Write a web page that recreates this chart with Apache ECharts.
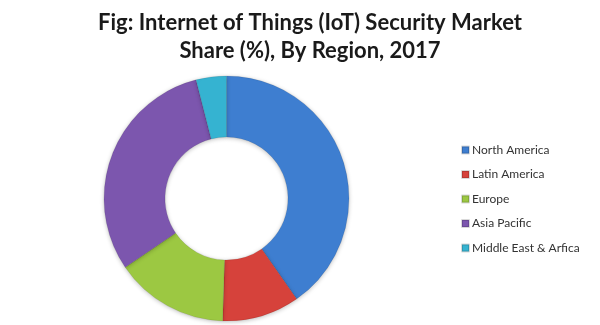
<!DOCTYPE html>
<html>
<head>
<meta charset="utf-8">
<script src="https://cdn.jsdelivr.net/npm/echarts@6/dist/echarts.min.js"></script>
<style>
html,body{margin:0;padding:0;background:#fff;}
#c{width:600px;height:325px;}
</style>
</head>
<body>
<div id="c"></div>
<script>
const titleLines = ['Fig: Internet of Things (IoT) Security Market', 'Share (%), By Region, 2017'];
const regions = ['North America', 'Latin America', 'Europe', 'Asia Pacific', 'Middle East & Arfica'];
const shares = [40.3, 10.2, 15.0, 30.5, 4.0];
const colors = ['#3E7ED0', '#D6423B', '#9CC842', '#7C56AE', '#35B3D1'];

const chart = echarts.init(document.getElementById('c'), null, {renderer: 'canvas'});
chart.setOption({
  animation: false,
  backgroundColor: '#ffffff',
  title: {
    text: titleLines.join('\n'),
    left: 305,
    textAlign: 'center',
    top: 4,
    textStyle: {fontFamily: 'Lato', fontWeight: 'bold', fontSize: 22, lineHeight: 28, color: '#1a1a1a'}
  },
  legend: {
    orient: 'vertical',
    left: 456,
    top: 139,
    icon: 'rect',
    itemWidth: 7,
    itemHeight: 7,
    itemGap: 12.5,
    textStyle: {fontFamily: 'Lato', fontSize: 12, color: '#333', padding: [0, 0, 0, -2]},
    data: regions
  },
  series: [{
    type: 'pie',
    center: [226.5, 198.5],
    radius: [61.5, 122.5],
    startAngle: 90,
    clockwise: true,
    label: {show: false},
    labelLine: {show: false},
    itemStyle: {
      borderColor: 'rgba(0,0,0,0.15)',
      borderWidth: 0.6,
      shadowBlur: 4,
      shadowColor: 'rgba(0,0,0,0.25)',
      shadowOffsetY: 1
    },
    data: regions.map((r, i) => ({name: r, value: shares[i], itemStyle: {color: colors[i]}}))
  }]
});
</script>
</body>
</html>
